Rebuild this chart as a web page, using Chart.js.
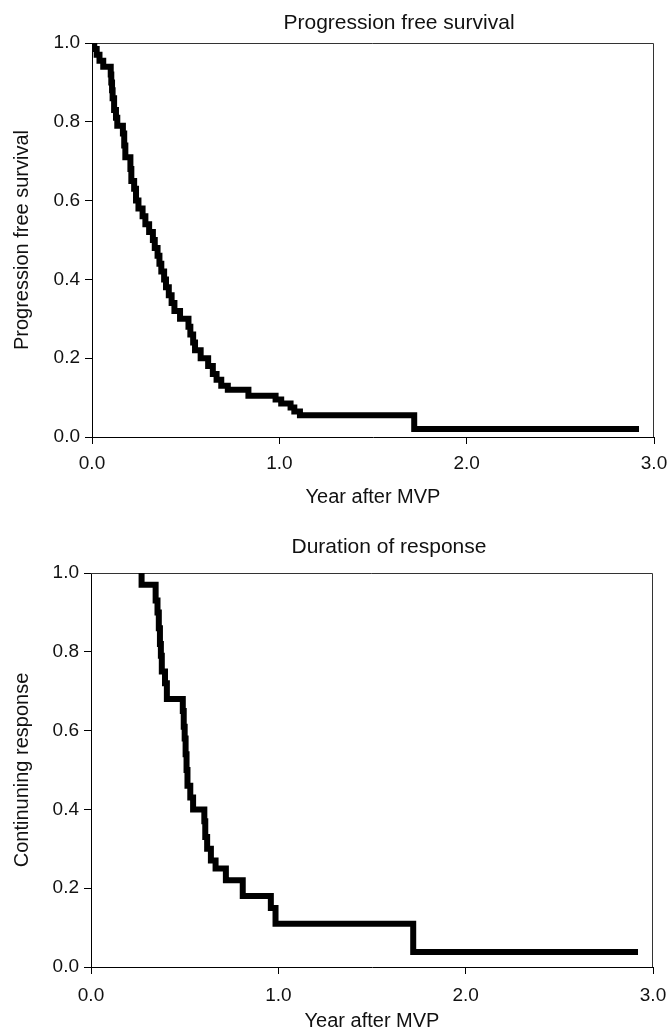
<!DOCTYPE html>
<html>
<head>
<meta charset="utf-8">
<title>Progression free survival / Duration of response</title>
<script src="https://cdn.jsdelivr.net/npm/chart.js@4/dist/chart.umd.min.js"></script>
<style>
    body {
        margin: 0;
        background: #fff;
    }
    #wrapper {
        width: 671px;
        height: 1033px;
        position: relative;
    }
    canvas {
        display: block;
    }
</style>
</head>
<body>
<div id="wrapper">
    <canvas id="chart-pfs" width="671" height="516"></canvas>
    <canvas id="chart-dor" width="671" height="517"></canvas>
</div>
<script>
// Kaplan-Meier steps (years, fraction)
const pfsTime = [0, 0.012, 0.025, 0.04, 0.06, 0.10, 0.103, 0.107, 0.11, 0.118, 0.128, 0.135,
    0.165, 0.172, 0.178, 0.205, 0.21, 0.225, 0.235, 0.248, 0.27, 0.285, 0.305, 0.325, 0.335,
    0.35, 0.36, 0.37, 0.385, 0.395, 0.41, 0.425, 0.44, 0.47, 0.515, 0.525, 0.54, 0.55, 0.58,
    0.62, 0.645, 0.665, 0.69, 0.725, 0.835, 0.98, 1.01, 1.06, 1.08, 1.11, 1.72, 2.92]
const pfsSurv = [1.0, 0.985, 0.97, 0.955, 0.94, 0.92, 0.90, 0.88, 0.86, 0.83, 0.81, 0.79,
    0.77, 0.74, 0.71, 0.68, 0.65, 0.63, 0.60, 0.58, 0.56, 0.54, 0.52, 0.50, 0.48,
    0.46, 0.44, 0.42, 0.40, 0.38, 0.36, 0.34, 0.32, 0.30, 0.28, 0.26, 0.24, 0.22, 0.20,
    0.18, 0.16, 0.145, 0.13, 0.12, 0.105, 0.095, 0.085, 0.075, 0.065, 0.055, 0.02, 0.02]

const dorTime = [0.26, 0.27, 0.345, 0.355, 0.362, 0.368, 0.373, 0.378, 0.395, 0.405, 0.49,
    0.495, 0.50, 0.505, 0.51, 0.515, 0.53, 0.545, 0.605, 0.61, 0.62, 0.64, 0.665, 0.72,
    0.81, 0.96, 0.985, 1.72, 2.92]
const dorResp = [1.0, 0.97, 0.93, 0.90, 0.86, 0.82, 0.79, 0.75, 0.72, 0.68, 0.65,
    0.61, 0.58, 0.54, 0.50, 0.46, 0.43, 0.40, 0.37, 0.33, 0.30, 0.27, 0.25, 0.22,
    0.18, 0.15, 0.11, 0.038, 0.038]

const xTicks = [0, 1, 2, 3]
const yTicks = [0, 0.2, 0.4, 0.6, 0.8, 1.0]

const FONT = "'Liberation Sans', Arial, Helvetica, sans-serif"

// title sits a bit right of the plot centre in the original, so draw it by hand
const titlePlugin = {
    id: 'kmTitle',
    afterDraw(chart, args, opts) {
        const ctx = chart.ctx
        ctx.save()
        ctx.font = '21px ' + FONT
        ctx.fillStyle = '#111'
        ctx.textAlign = 'center'
        ctx.textBaseline = 'middle'
        ctx.fillText(opts.text, opts.x, opts.y)
        ctx.restore()
    },
}

// thin frame on the top and right of the plot area
const framePlugin = {
    id: 'kmFrame',
    beforeDatasetsDraw(chart) {
        const { ctx, chartArea: a } = chart
        ctx.save()
        ctx.strokeStyle = '#333'
        ctx.lineWidth = 1
        ctx.beginPath()
        ctx.moveTo(a.left, a.top + 0.5)
        ctx.lineTo(a.right - 0.5, a.top + 0.5)
        ctx.lineTo(a.right - 0.5, a.bottom)
        ctx.stroke()
        ctx.restore()
    },
}

function makeChart(id, times, values, cfg) {
    const ctx = document.getElementById(id).getContext('2d')
    return new Chart(ctx, {
        type: 'line',
        data: {
            datasets: [
                {
                    data: times.map((t, i) => ({ x: t, y: values[i] })),
                    borderColor: '#000',
                    borderWidth: 6,
                    stepped: true,
                    pointRadius: 0,
                    fill: false,
                },
            ],
        },
        options: {
            responsive: false,
            animation: false,
            layout: {
                padding: { top: cfg.top, right: 0, left: 0, bottom: 0 },
            },
            plugins: {
                legend: { display: false },
                tooltip: { enabled: false },
                kmTitle: { text: cfg.title, x: cfg.titleX, y: cfg.titleY },
            },
            scales: {
                x: {
                    type: 'linear',
                    min: 0,
                    max: 3,
                    afterBuildTicks: (scale) => {
                        scale.ticks = xTicks.map((v) => ({ value: v }))
                    },
                    afterFit: (scale) => {
                        scale.height = cfg.xHeight
                        // the "3.0" label may run to the page edge, like the original
                        scale.paddingRight = cfg.right
                        scale.paddingLeft = 0
                    },
                    ticks: {
                        color: '#111',
                        font: { family: FONT, size: 19 },
                        padding: cfg.xTickPad,
                        maxRotation: 0,
                        callback: (v) => v.toFixed(1),
                    },
                    grid: {
                        drawOnChartArea: false,
                        drawTicks: true,
                        tickLength: 7,
                        tickColor: '#000',
                    },
                    border: { display: true, color: '#000', width: 1 },
                    title: {
                        display: true,
                        text: 'Year after MVP',
                        color: '#111',
                        font: { family: FONT, size: 20 },
                        padding: { top: 0, bottom: cfg.xTitlePad },
                    },
                },
                y: {
                    type: 'linear',
                    min: 0,
                    max: 1,
                    afterBuildTicks: (scale) => {
                        scale.ticks = yTicks.map((v) => ({ value: v }))
                    },
                    afterFit: (scale) => {
                        scale.width = cfg.yWidth
                    },
                    ticks: {
                        color: '#111',
                        font: { family: FONT, size: 19 },
                        padding: 5,
                        callback: (v) => v.toFixed(1),
                    },
                    grid: {
                        drawOnChartArea: false,
                        drawTicks: true,
                        tickLength: 7,
                        tickColor: '#000',
                    },
                    border: { display: true, color: '#000', width: 1 },
                    title: {
                        display: true,
                        text: cfg.yLabel,
                        color: '#111',
                        font: { family: FONT, size: 20 },
                        padding: { top: 10, bottom: 0 },
                    },
                },
            },
        },
        plugins: [titlePlugin, framePlugin],
    })
}

makeChart('chart-pfs', pfsTime, pfsSurv, {
    title: 'Progression free survival',
    titleX: 399,
    titleY: 23,
    yLabel: 'Progression free survival',
    top: 43,
    right: 17,
    yWidth: 92,
    xHeight: 79,
    xTickPad: 8,
    xTitlePad: 7,
})

makeChart('chart-dor', dorTime, dorResp, {
    title: 'Duration of response',
    titleX: 389,
    titleY: 31,
    yLabel: 'Continuning response',
    top: 57,
    right: 18,
    yWidth: 91,
    xHeight: 66,
    xTickPad: 10,
    xTitlePad: 0,
})
</script>
</body>
</html>
